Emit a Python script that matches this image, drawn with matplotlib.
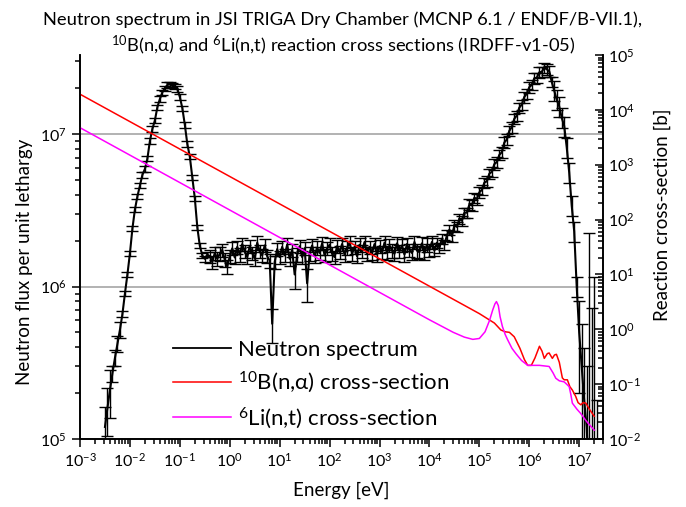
import numpy as np
import matplotlib.pyplot as plt
from matplotlib.lines import Line2D
from matplotlib.ticker import LogLocator, NullFormatter

plt.rcParams['font.family'] = ['Lato', 'DejaVu Sans']
plt.rcParams['mathtext.fontset'] = 'custom'
plt.rcParams['mathtext.rm'] = 'Lato'
plt.rcParams['mathtext.it'] = 'Lato:italic'
plt.rcParams['mathtext.default'] = 'regular'

# neutron spectrum, group structure: 20 groups per decade starting at 10^-2.5 eV
log_e_start = -2.5
log_e_step = 0.05
# flux per unit lethargy [1e6]
flux = [
    0.12, 0.16, 0.21, 0.27, 0.34, 0.42, 0.52, 0.66, 0.90, 1.20,
    1.65, 2.40, 3.20, 3.90, 4.60, 5.40, 5.90, 6.90, 9.00, 10.8, 12.3, 15.0, 17.0, 18.8, 20.0, 21.0, 21.2, 20.9, 20.6, 19.8,
    17.5, 14.8, 11.5, 8.6, 7.1, 5.2, 3.8, 2.45, 1.85, 1.60, 1.52, 1.62, 1.58, 1.45, 1.66, 1.52, 1.64, 1.74, 1.50, 1.35,
    1.58, 1.78, 1.55, 1.82, 1.62, 1.90, 1.70, 1.56, 1.84, 1.66, 1.52, 1.94, 1.70, 1.60, 1.86, 1.58, 1.48, 0.57, 1.45, 1.76,
    1.56, 1.82, 1.60, 1.88, 1.52, 1.74, 1.20, 1.62, 1.84, 1.56, 1.78, 1.05, 1.64, 1.86, 1.58, 1.80, 1.66, 1.92, 1.60, 1.78,
    1.88, 1.64, 1.56, 1.84, 1.68, 1.90, 1.62, 1.80, 1.94, 1.64, 1.82, 1.58, 1.88, 1.70, 1.96, 1.64, 1.82, 1.66, 1.90, 1.62,
    1.84, 1.68, 1.94, 1.66, 1.86, 1.72, 1.64, 1.92, 1.70, 1.86, 1.62, 1.90, 1.74, 1.66, 1.96, 1.72, 1.68, 1.92, 1.66, 1.88,
    1.74, 1.96, 1.72, 1.94, 1.80, 2.06, 1.88, 2.16, 2.36, 2.14, 2.52, 2.46, 2.78, 2.70, 3.05, 3.05, 3.45, 3.40, 3.82, 3.75,
    4.15, 4.30, 4.80, 4.90, 5.50, 5.65, 6.35, 6.55, 7.30, 7.60, 8.80, 9.20, 10.5, 11.1, 12.6, 13.2, 14.9, 15.6, 17.5, 18.4,
    20.3, 21.0, 23.2, 23.4, 25.4, 25.6, 27.2, 26.6, 25.8, 22.0, 19.3, 16.8, 15.2, 12.8, 11.3, 8.2, 5.6, 3.4, 2.3, 1.0,
    0.50, 0.30, 0.18, 0.12, 0.05, 0.08, 0.04, 0.03,
]
# relative statistical error
rel_err = ([0.35] * 3 + [0.12] * 4 + [0.04] * 35 + [0.10] * 90 + [0.08] * 38
           + [0.08] * 10 + [0.15] * 10 + [0.6, 0.9, 1.2, 1.5, 44.0, 8.0, 28.0, 5.0])
dip_log_e = [0.85, 1.30, 1.55]
dip_rel_err = [0.25, 0.20, 0.25]

# 10B(n,a) cross-section [b]
b10_energy = [1e-3, 1e4, 5e4, 1e5, 2e5, 2.7e5, 3.3e5, 4e5, 5e5, 6.5e5, 8e5, 9.3e5, 1.1e6, 1.3e6,
              1.6e6, 1.8e6, 2e6, 2.3e6, 2.5e6, 2.9e6, 3.2e6, 3.5e6, 4e6, 4.6e6, 5e6, 5.8e6, 6.5e6,
              7.3e6, 8.5e6, 9.5e6, 1.08e7, 1.2e7, 1.36e7, 1.6e7, 2e7]
b10_xs = [19300, 6.1, 2.73, 1.93, 1.30, 0.97, 0.90, 0.88, 0.73, 0.45, 0.28, 0.22, 0.22, 0.30,
          0.49, 0.40, 0.295, 0.36, 0.37, 0.295, 0.34, 0.35, 0.25, 0.13, 0.12, 0.12, 0.09,
          0.078, 0.06, 0.046, 0.042, 0.046, 0.045, 0.035, 0.026]
# 6Li(n,t) cross-section [b]
li6_energy = [1e-3, 1e4, 3e4, 5e4, 7.4e4, 1e5, 1.3e5, 1.6e5, 1.85e5, 2.05e5, 2.2e5, 2.4e5, 2.6e5,
              2.9e5, 3.3e5, 3.7e5, 4.5e5, 5.4e5, 7e5, 9.3e5, 1.2e6, 1.6e6, 2.5e6, 3e6, 3.4e6, 4e6,
              5e6, 5.6e6, 6.3e6, 6.8e6, 7.3e6, 9e6, 1.08e7, 1.4e7, 2e7]
li6_xs = [4730, 1.49, 0.88, 0.72, 0.655, 0.68, 0.9, 1.45, 2.24, 2.9, 3.2, 2.7, 1.7,
          1.12, 0.8, 0.64, 0.45, 0.36, 0.27, 0.22, 0.22, 0.22, 0.21, 0.16, 0.128, 0.115,
          0.11, 0.1, 0.09, 0.065, 0.045, 0.035, 0.029, 0.021, 0.0145]

log_e = log_e_start + log_e_step * np.arange(len(flux))
energy = 10 ** log_e
phi = np.array(flux) * 1e6
err = np.array(rel_err)
for d, r in zip(dip_log_e, dip_rel_err):
    err[np.argmin(np.abs(log_e - d))] = r

fig = plt.figure(figsize=(6.86, 5.07), dpi=100)
ax = fig.add_axes([80 / 686, 68 / 507, 523 / 686, 384 / 507])

ax.errorbar(energy, phi, yerr=phi * err, color='black', lw=1.5, elinewidth=1.0,
            capsize=4, capthick=1.0, zorder=3)
ax.set_xscale('log')
ax.set_yscale('log')
ax.set_xlim(1e-3, 3e7)
ax.set_ylim(1e5, 3.3e7)
ax.yaxis.grid(True, which='major', color='#a6a6a6', lw=1.2)
ax.set_axisbelow(True)

ax2 = ax.twinx()
ax2.plot(b10_energy, b10_xs, color='#ff0000', lw=1.1)
ax2.plot(li6_energy, li6_xs, color='#ff00ff', lw=1.1)
ax2.set_yscale('log')
ax2.set_ylim(1e-2, 1e5)

for a in (ax, ax2):
    a.spines['top'].set_visible(False)
    for s in a.spines.values():
        s.set_linewidth(1.2)

ax.xaxis.set_major_locator(LogLocator(base=10, numticks=20))
ax.xaxis.set_minor_locator(LogLocator(base=10, subs=np.arange(2, 10), numticks=20))
ax.xaxis.set_minor_formatter(NullFormatter())
ax.yaxis.set_minor_formatter(NullFormatter())
ax2.yaxis.set_major_locator(LogLocator(base=10, numticks=20))
ax2.yaxis.set_minor_locator(LogLocator(base=10, subs=np.arange(2, 10), numticks=20))
ax2.yaxis.set_minor_formatter(NullFormatter())

ax.tick_params(which='both', direction='out', labelsize=11.5, width=1.1)
ax.tick_params(which='major', length=6)
ax.tick_params(which='minor', length=3.5)
ax.tick_params(axis='x', top=False)
ax2.tick_params(which='both', direction='in', labelsize=11.5, width=1.1)
ax2.tick_params(which='major', length=6)
ax2.tick_params(which='minor', length=3.5)

handles = [Line2D([], [], color='black', lw=1.3),
           Line2D([], [], color='#ff0000', lw=1.1),
           Line2D([], [], color='#ff00ff', lw=1.1)]
labels = ['Neutron spectrum', r'$^{10}$B(n,α) cross-section', r'$^{6}$Li(n,t) cross-section']
ax2.legend(handles, labels, loc='upper left', bbox_to_anchor=(0.177, 0.258), frameon=False,
           fontsize=16, borderpad=0, borderaxespad=0, handlelength=2.65, handletextpad=0.3,
           labelspacing=0.45)

fig.text(0.5, 1 - 25 / 507, 'Neutron spectrum in JSI TRIGA Dry Chamber (MCNP 6.1 / ENDF/B-VII.1),',
         ha='center', va='baseline', fontsize=13.2)
fig.text(0.5, 1 - 52 / 507, r'$^{10}$B(n,α) and $^{6}$Li(n,t) reaction cross sections (IRDFF-v1-05)',
         ha='center', va='baseline', fontsize=13.2)
fig.text(341 / 686, 1 - 490 / 507, 'Energy [eV]', ha='center', va='center', fontsize=13.5)
fig.text(25 / 686, 1 - 262 / 507, 'Neutron flux per unit lethargy', ha='center', va='center',
         rotation=90, fontsize=13.5)
fig.text(662 / 686, 1 - 215 / 507, 'Reaction cross-section [b]', ha='center', va='center',
         rotation=90, fontsize=13.5)

fig.savefig('out.png', dpi=100)
